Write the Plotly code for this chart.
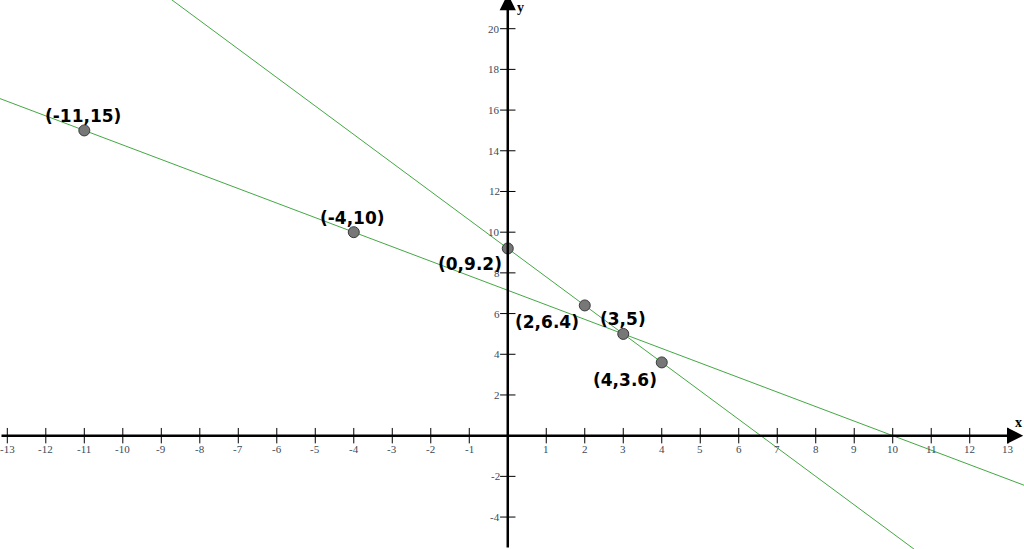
import plotly.graph_objects as go

# points on the two lines
line_a_x = [-11, -4, 3]
line_a_y = [15, 10, 5]
line_b_x = [0, 2, 4]
line_b_y = [9.2, 6.4, 3.6]

pt_x = [-11, -4, 0, 2, 3, 4]
pt_y = [15, 10, 9.2, 6.4, 5, 3.6]
pt_labels = ['(-11,15)', '(-4,10)', '(0,9.2)', '(2,6.4)', '(3,5)', '(4,3.6)']
lab_dx = [-1, -1, -38, -38, 0, -37]
lab_dy = [14, 14, -16, -17, 15, -18]

x_ticks = [-13, -12, -11, -10, -9, -8, -7, -6, -5, -4, -3, -2, -1,
           1, 2, 3, 4, 5, 6, 7, 8, 9, 10, 11, 12, 13]
y_ticks = [-4, -2, 2, 4, 6, 8, 10, 12, 14, 16, 18, 20]

x_range = [-13.19, 13.41]
y_range = [-5.57, 21.41]

fig = go.Figure()

def extend(xs, ys):
    m = (ys[-1] - ys[0]) / (xs[-1] - xs[0])
    return x_range, [ys[0] + m * (x - xs[0]) for x in x_range]

for xs, ys in [(line_a_x, line_a_y), (line_b_x, line_b_y)]:
    lx, ly = extend(xs, ys)
    fig.add_trace(go.Scatter(x=lx, y=ly, mode='lines',
                             line=dict(color='#44a844', width=1), hoverinfo='skip'))

# axes with arrows
fig.add_annotation(x=x_range[1] - 0.02, y=0, ax=x_range[0], ay=0, xref='x', yref='y',
                   axref='x', ayref='y', showarrow=True, arrowhead=2, arrowsize=1.3,
                   arrowwidth=2.5, arrowcolor='black', text='')
fig.add_annotation(x=0, y=y_range[1] + 0.3, ax=0, ay=y_range[0], xref='x', yref='y',
                   axref='x', ayref='y', showarrow=True, arrowhead=2, arrowsize=1.3,
                   arrowwidth=2.5, arrowcolor='black', text='')

# tick marks
fig.add_trace(go.Scatter(x=x_ticks, y=[0] * len(x_ticks), mode='markers',
                         marker=dict(symbol='line-ns', size=11, line=dict(color='black', width=1)),
                         hoverinfo='skip'))
fig.add_trace(go.Scatter(x=[0] * len(y_ticks), y=y_ticks, mode='markers',
                         marker=dict(symbol='line-ew', size=11, line=dict(color='black', width=1)),
                         hoverinfo='skip'))

tick_font = dict(family='Liberation Serif', size=11, color='#3a4a5a')
for t in x_ticks:
    fig.add_annotation(x=t, y=0, text=str(t), showarrow=False, yshift=-13, font=tick_font)
for t in y_ticks:
    fig.add_annotation(x=0, y=t, text=str(t), showarrow=False, xanchor='right',
                       xshift=-6, font=tick_font)

ax_font = dict(family='Liberation Serif', size=14, color='black')
fig.add_annotation(x=x_range[1], y=0, text='<b>x</b>', showarrow=False, xshift=-6,
                   yshift=13, font=ax_font)
fig.add_annotation(x=0, y=y_range[1], text='<b>y</b>', showarrow=False, xshift=13,
                   yshift=-7, font=ax_font)

# points
fig.add_trace(go.Scatter(x=pt_x, y=pt_y, mode='markers',
                         marker=dict(color='#777777', size=11, line=dict(color='#3a3a3a', width=1)),
                         hoverinfo='skip'))
for x, y, s, dx, dy in zip(pt_x, pt_y, pt_labels, lab_dx, lab_dy):
    fig.add_annotation(x=x, y=y, text='<b>' + s + '</b>', showarrow=False, xshift=dx, yshift=dy,
                       font=dict(family='DejaVu Sans', size=17, color='black'))

fig.update_xaxes(range=x_range, visible=False)
fig.update_yaxes(range=y_range, visible=False)
fig.update_layout(width=1024, height=549, margin=dict(l=0, r=0, t=0, b=0),
                  plot_bgcolor='white', paper_bgcolor='white', showlegend=False)

fig.write_html("out.html", config={'displayModeBar': False},
               post_script="document.body.style.margin='0';document.body.style.overflow='hidden';")
